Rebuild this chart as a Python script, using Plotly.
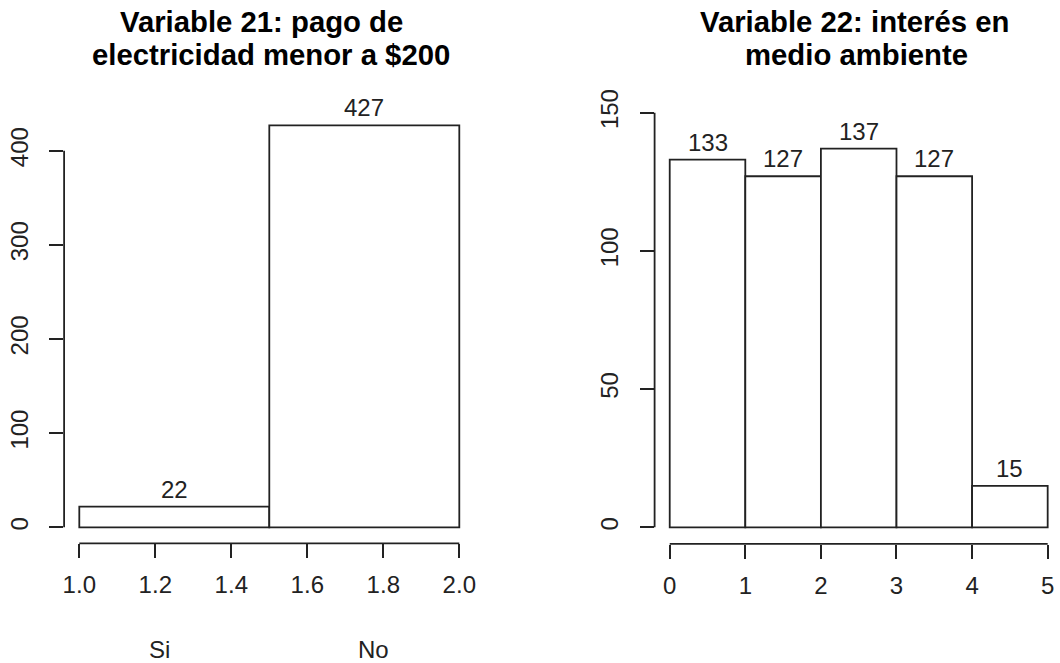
import plotly.graph_objects as go

# ---------------- data ----------------
v21_breaks = [1.0, 1.5, 2.0]
v21_counts = [22, 427]
v21_xticks = [1.0, 1.2, 1.4, 1.6, 1.8, 2.0]
v21_yticks = [0, 100, 200, 300, 400]
v21_labels = ["Si", "No"]
v21_title = ["Variable 21: pago de", "electricidad menor a $200"]

v22_breaks = [0, 1, 2, 3, 4, 5]
v22_counts = [133, 127, 137, 127, 15]
v22_xticks = [0, 1, 2, 3, 4, 5]
v22_yticks = [0, 50, 100, 150]
v22_title = ["Variable 22: interés en", "medio ambiente"]

# ---------------- layout helpers ----------------
W, H = 1060, 663
FONT = "Liberation Sans, Arial, sans-serif"
INK = "#222222"
LW = 1.8
TICK = 24
TITLE = 29.3


def fx(p):
    return p / W


def fy(p):
    return 1 - p / H


def centers(b):
    return [(b[i] + b[i + 1]) / 2 for i in range(len(b) - 1)]


def widths(b):
    return [b[i + 1] - b[i] for i in range(len(b) - 1)]


def bar(breaks, counts, xa, ya):
    return go.Bar(
        x=centers(breaks), y=counts, width=widths(breaks),
        marker=dict(color="white", line=dict(color=INK, width=LW)),
        xaxis=xa, yaxis=ya, showlegend=False, hoverinfo="skip",
    )


fig = go.Figure()
fig.add_trace(bar(v21_breaks, v21_counts, "x", "y"))
fig.add_trace(bar(v22_breaks, v22_counts, "x2", "y2"))


def xax(dom, rng, ticks, fmt, anchor):
    return dict(
        domain=dom, range=rng, tickvals=ticks, ticktext=[fmt(t) for t in ticks],
        anchor=anchor, automargin=False,
        ticks="outside", ticklen=14, tickwidth=LW, tickcolor=INK,
        showgrid=False, zeroline=False, showline=False,
        tickfont=dict(family=FONT, size=TICK, color=INK), ticklabelstandoff=6,
    )


def yax(dom, rng, ticks, anchor):
    return dict(
        domain=dom, range=rng, tickvals=ticks, ticktext=[str(t) for t in ticks],
        anchor=anchor, automargin=False,
        ticks="outside", ticklen=14, tickwidth=LW, tickcolor=INK, tickangle=-90,
        showgrid=False, zeroline=False, showline=False,
        tickfont=dict(family=FONT, size=TICK, color=INK), ticklabelstandoff=12,
    )


def ext(lo, hi):
    d = (hi - lo) * 0.04
    return [lo - d, hi + d]


# right panel's plot region runs past the image edge in the reference; crop it
x2_range = ext(v22_breaks[0], v22_breaks[-1])
x2_range[1] = 5.163

fig.update_layout(
    width=W, height=H, margin=dict(l=0, r=0, t=0, b=0, pad=0, autoexpand=False),
    paper_bgcolor="white", plot_bgcolor="white",
    barmode="overlay",
    xaxis=xax([fx(64.1), fx(474.5)], ext(v21_breaks[0], v21_breaks[-1]), v21_xticks, lambda t: f"{t:.1f}", "y"),
    yaxis=yax([fy(543.4), fy(109.2)], ext(0, max(v21_counts)), v21_yticks, "x"),
    xaxis2=xax([fx(654.6), 1.0], x2_range, v22_xticks, lambda t: str(t), "y2"),
    yaxis2=yax([fy(543.9), fy(96.1)], ext(0, max(v22_yticks)), v22_yticks, "x2"),
)

# R-style axis lines spanning only first..last tick
shapes = []
for xr, yr, xt, yt in [("x", "y", v21_xticks, v21_yticks), ("x2", "y2", v22_xticks, v22_yticks)]:
    shapes.append(dict(type="line", xref=xr, yref=yr + " domain", x0=xt[0], x1=xt[-1], y0=0, y1=0,
                       line=dict(color=INK, width=LW)))
    shapes.append(dict(type="line", xref=xr + " domain", yref=yr, x0=0, x1=0, y0=yt[0], y1=yt[-1],
                       line=dict(color=INK, width=LW)))
fig.update_layout(shapes=shapes)

ann = []
# count labels above bars (R hist labels=TRUE)
for xr, yr, breaks, counts in [("x", "y", v21_breaks, v21_counts), ("x2", "y2", v22_breaks, v22_counts)]:
    for cx, c in zip(centers(breaks), counts):
        ann.append(dict(text=str(c), x=cx, y=c, xref=xr, yref=yr, xanchor="center",
                        yanchor="middle", yshift=17.5, showarrow=False,
                        font=dict(family=FONT, size=TICK, color=INK)))

title_pos = [(v21_title[0], 261.5, 21.8), (v21_title[1], 270.6, 54.7),
             (v22_title[0], 854, 21.8), (v22_title[1], 856.5, 54.7)]
for txt, cx, cy in title_pos:
    ann.append(dict(text=f"<b>{txt}</b>", x=fx(cx), y=fy(cy), xref="paper", yref="paper",
                    xanchor="center", yanchor="middle", showarrow=False,
                    font=dict(family=FONT, size=TITLE, color="black")))
for txt, cx in zip(v21_labels, [159, 373]):
    ann.append(dict(text=txt, x=fx(cx), y=fy(649), xref="paper", yref="paper",
                    xanchor="center", yanchor="middle", showarrow=False,
                    font=dict(family=FONT, size=TICK, color=INK)))
fig.update_layout(annotations=ann)

fig.write_html("out.html")
